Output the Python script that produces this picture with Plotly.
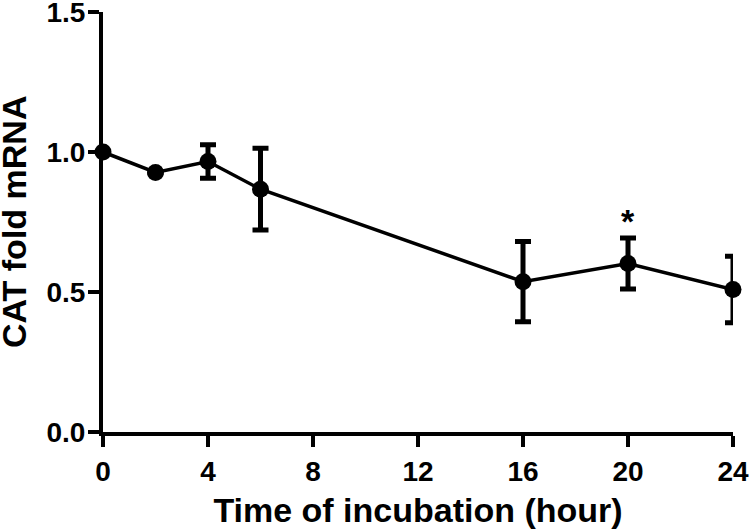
import plotly.graph_objects as go

hours = [0, 2, 4, 6, 16, 20, 24]
fold_mrna = [1.0, 0.927, 0.966, 0.867, 0.537, 0.602, 0.509]
sem = [0.0, 0.0, 0.06, 0.146, 0.143, 0.091, 0.119]
significant_hours = [20]

x_ticks = [0, 4, 8, 12, 16, 20, 24]
y_ticks = [0.0, 0.5, 1.0, 1.5]
y_tick_labels = ["0.0", "0.5", "1.0", "1.5"]

FONT = "Liberation Sans, Arial, sans-serif"

fig = go.Figure()
fig.add_trace(go.Scatter(
    x=hours, y=fold_mrna,
    mode="lines+markers",
    line=dict(color="black", width=3.5),
    marker=dict(color="black", size=17),
    error_y=dict(type="data", array=sem, visible=True, color="black",
                 thickness=5, width=8),
    cliponaxis=False,
    showlegend=False,
))

for h in significant_hours:
    i = hours.index(h)
    fig.add_annotation(
        x=h, y=fold_mrna[i] + sem[i], text="*", showarrow=False,
        xanchor="center", yanchor="bottom", yshift=-4,
        font=dict(family=FONT, size=34, color="black", weight="bold"),
    )

# y-axis title placed as a rotated annotation for exact positioning
fig.add_annotation(
    x=0, y=0.5, xref="paper", yref="paper", text="CAT fold mRNA",
    textangle=-90, showarrow=False, xanchor="center", yanchor="middle",
    xshift=-89,
    font=dict(family=FONT, size=34, color="black", weight="bold"),
)

fig.update_layout(
    width=750, height=532,
    margin=dict(l=103, r=17, t=12, b=100, pad=0, autoexpand=False),
    plot_bgcolor="white", paper_bgcolor="white",
    font=dict(family=FONT, color="black", weight="bold"),
)
fig.update_xaxes(
    range=[0, 24], tickvals=x_ticks, ticktext=[str(t) for t in x_ticks],
    showline=True, linecolor="black", linewidth=4,
    ticks="outside", ticklen=11, tickwidth=4, tickcolor="black",
    showgrid=False, zeroline=False, automargin=False,
    tickfont=dict(family=FONT, size=28, weight="bold"),
    ticklabelstandoff=0,
    title=dict(text="Time of incubation (hour)", standoff=14,
               font=dict(family=FONT, size=34, weight="bold")),
)
fig.update_yaxes(
    range=[0, 1.5], tickvals=y_ticks, ticktext=y_tick_labels,
    showline=True, linecolor="black", linewidth=4,
    ticks="outside", ticklen=11, tickwidth=4, tickcolor="black",
    showgrid=False, zeroline=False, automargin=False,
    tickfont=dict(family=FONT, size=28, weight="bold"),
    ticklabelstandoff=-3, ticklabeloverflow="allow",
)

fig.write_html("out.html",
               config={"displayModeBar": False},
               post_script="document.body.style.margin='0px';document.body.style.padding='0px';")
